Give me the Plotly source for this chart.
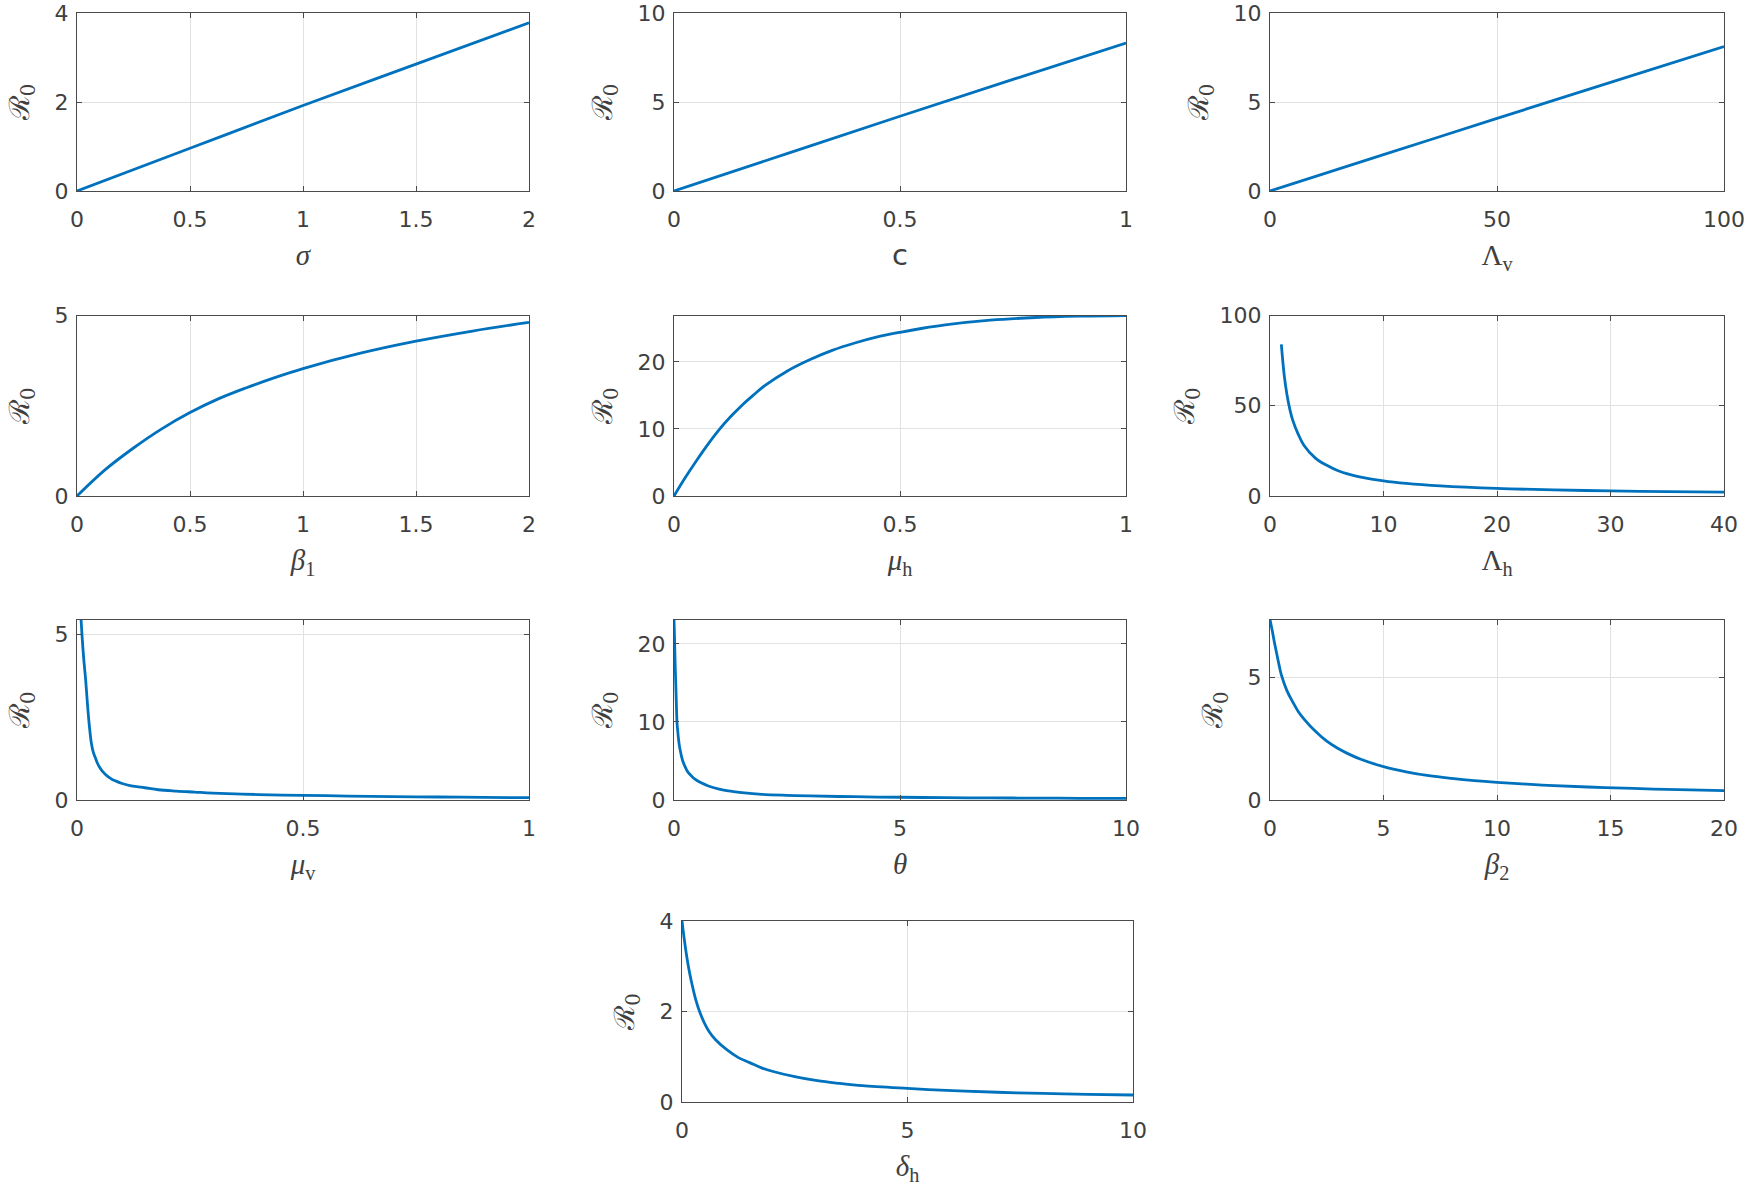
import plotly.graph_objects as go

# ---------------- data ----------------
sigma = [0, 0.5, 1, 1.5, 2]
R0_sigma = [0, 0.96, 1.92, 2.85, 3.78]

c_vals = [0, 0.25, 0.5, 0.75, 1]
R0_c = [0, 2.1, 4.2, 6.27, 8.31]

Lambda_v = [0, 25, 50, 75, 100]
R0_Lambda_v = [0, 2.04, 4.08, 6.1, 8.12]

beta1 = [0, 0.125, 0.25, 0.375, 0.5, 0.625, 0.75, 0.875, 1, 1.25, 1.5, 1.75, 2]
R0_beta1 = [0, 0.73, 1.33, 1.86, 2.31, 2.69, 3.0, 3.28, 3.53, 3.95, 4.29, 4.57, 4.81]

mu_h = [0, 0.025, 0.05, 0.075, 0.1, 0.125, 0.15, 0.175, 0.2, 0.25, 0.3, 0.35, 0.4, 0.45,
        0.5, 0.55, 0.6, 0.7, 0.8, 0.9, 1.0]
R0_mu_h = [0, 2.75, 5.3, 7.7, 9.9, 11.8, 13.5, 15.0, 16.4, 18.6, 20.3, 21.7, 22.8, 23.7,
           24.4, 25.0, 25.5, 26.2, 26.6, 26.8, 26.9]

Lambda_h = [1, 1.25, 1.5, 1.75, 2, 2.5, 3, 4, 5, 6, 7, 8, 10, 12, 15, 20, 25, 30, 35, 40]
R0_Lambda_h = [84, 67, 56, 48, 42, 34, 28, 21, 17, 14, 12, 10.5, 8.4, 7, 5.6, 4.2, 3.4, 2.8, 2.4, 2.1]

mu_v = [0.009, 0.011, 0.013, 0.015, 0.017, 0.019, 0.021, 0.024, 0.028, 0.032, 0.036, 0.04,
        0.045, 0.05, 0.056, 0.063, 0.07, 0.077, 0.085, 0.1, 0.12, 0.15, 0.18, 0.22, 0.26,
        0.3, 0.4, 0.5, 0.6, 0.7, 0.8, 0.9, 1.0]
R0_mu_v = [5.45, 5.0, 4.6, 4.25, 3.95, 3.66, 3.3, 2.75, 2.15, 1.7, 1.45, 1.3,
           1.12, 0.99, 0.87, 0.77, 0.69, 0.63, 0.58, 0.5, 0.43, 0.37, 0.31, 0.27, 0.24,
           0.21, 0.165, 0.14, 0.12, 0.1, 0.09, 0.08, 0.07]

theta = [0, 0.008, 0.015, 0.025, 0.037, 0.05, 0.066, 0.08, 0.1, 0.118, 0.14, 0.17, 0.206,
         0.25, 0.317, 0.4, 0.465, 0.6, 0.76, 1.0, 1.2, 1.5, 1.94, 2.5, 3, 4, 5, 6, 7, 8, 9, 10]
R0_theta = [23.13, 21.5, 20, 17.5, 15.3, 12.8, 10, 9.0, 7.8, 7.0, 6.3, 5.5, 4.8,
            4.2, 3.5, 3.0, 2.67, 2.2, 1.8, 1.4, 1.16, 0.95, 0.73, 0.6, 0.52, 0.42, 0.35,
            0.3, 0.27, 0.24, 0.22, 0.2]

beta2 = [0, 0.1, 0.2, 0.3, 0.4, 0.5, 0.75, 1, 1.25, 1.5, 2, 2.5, 3, 3.5, 4, 5, 6, 7, 8, 9,
         10, 12, 14, 16, 18, 20]
R0_beta2 = [7.36, 6.9, 6.4, 5.95, 5.5, 5.1, 4.45, 4.0, 3.6, 3.3, 2.8, 2.4, 2.1, 1.86, 1.66,
            1.36, 1.15, 0.99, 0.88, 0.79, 0.72, 0.61, 0.53, 0.47, 0.42, 0.38]

delta_h = [0, 0.05, 0.1, 0.15, 0.2, 0.3, 0.4, 0.5, 0.6, 0.75, 1, 1.25, 1.5, 1.75, 2, 2.5,
           3, 3.5, 4, 5, 6, 7, 8, 9, 10]
R0_delta_h = [4, 3.6, 3.25, 2.95, 2.7, 2.28, 1.97, 1.74, 1.56, 1.37, 1.15, 0.98, 0.87,
              0.76, 0.68, 0.56, 0.47, 0.41, 0.36, 0.3, 0.25, 0.215, 0.19, 0.17, 0.155]

# axis ranges and tick labels
x_ranges = [[0, 2], [0, 1], [0, 100], [0, 2], [0, 1], [0, 40], [0, 1], [0, 10], [0, 20], [0, 10]]
y_ranges = [[0, 4], [0, 10], [0, 10], [0, 5], [0, 26.9], [0, 100], [0, 5.456], [0, 23.13],
            [0, 7.36], [0, 4]]
x_ticks = [[0, 0.5, 1, 1.5, 2], [0, 0.5, 1], [0, 50, 100], [0, 0.5, 1, 1.5, 2], [0, 0.5, 1],
           [0, 10, 20, 30, 40], [0, 0.5, 1], [0, 5, 10], [0, 5, 10, 15, 20], [0, 5, 10]]
y_ticks = [[0, 2, 4], [0, 5, 10], [0, 5, 10], [0, 5], [0, 10, 20], [0, 50, 100], [0, 5],
           [0, 10, 20], [0, 5], [0, 2, 4]]

x_titles = ['<i>σ</i>', 'c', 'Λ<sub>v</sub>', '<i>β</i><sub>1</sub>', '<i>μ</i><sub>h</sub>',
            'Λ<sub>h</sub>', '<i>μ</i><sub>v</sub>', '<i>θ</i>', '<i>β</i><sub>2</sub>',
            '<i>δ</i><sub>h</sub>']
x_title_fonts = ['Liberation Serif', 'DejaVu Sans', 'Liberation Serif', 'Liberation Serif',
                 'Liberation Serif', 'Liberation Serif', 'Liberation Serif', 'Liberation Serif',
                 'Liberation Serif', 'Liberation Serif']
y_title = 'ℛ<sub>0</sub>'

series = [(sigma, R0_sigma), (c_vals, R0_c), (Lambda_v, R0_Lambda_v),
          (beta1, R0_beta1), (mu_h, R0_mu_h), (Lambda_h, R0_Lambda_h),
          (mu_v, R0_mu_v), (theta, R0_theta), (beta2, R0_beta2),
          (delta_h, R0_delta_h)]

# ---------------- layout (pixel boxes -> paper fractions) ----------------
W, H = 1754, 1192
cols = [(77, 529), (674, 1126), (1270, 1724)]
rows = [(13, 191), (315.5, 496), (619.5, 800)]
boxes = []
for r in rows:
    for cc in cols:
        boxes.append((cc, r))
boxes.append(((682, 1133), (921, 1102)))

AX = '#4a4a4a'
TXT = '#404040'
TICKFONT = dict(family='DejaVu Sans', size=22, color=TXT)

fig = go.Figure()
layout = dict(width=W, height=H, margin=dict(l=0, r=0, t=0, b=0),
              paper_bgcolor='white', plot_bgcolor='white', showlegend=False,
              template='none')

for i, ((xs, ys), ((x0, x1), (y0, y1))) in enumerate(zip(series, boxes)):
    n = i + 1
    sx = '' if n == 1 else str(n)
    fig.add_trace(go.Scatter(
        x=xs, y=ys, mode='lines',
        line=dict(color='#0072BD', width=2.8, shape='spline', smoothing=1.0),
        xaxis='x' + sx, yaxis='y' + sx, hoverinfo='skip'))
    common = dict(showline=True, mirror='ticks', linecolor=AX, linewidth=1.2,
                  ticks='inside', ticklen=5, tickcolor=AX, tickwidth=1,
                  showgrid=True, gridcolor='#e2e2e2', gridwidth=1, zeroline=False,
                  tickfont=TICKFONT, automargin=False, fixedrange=True,
                  ticklabeloverflow='allow')
    layout['xaxis' + sx] = dict(common, domain=[x0 / W, x1 / W], anchor='y' + sx,
                                range=x_ranges[i], tickvals=x_ticks[i],
                                ticktext=[f'{v:g}' for v in x_ticks[i]],
                                ticklabelstandoff=8,
                                title=dict(text=x_titles[i],
                                           font=dict(family=x_title_fonts[i], size=29, color=TXT),
                                           standoff=14))
    layout['yaxis' + sx] = dict(common, domain=[1 - y1 / H, 1 - y0 / H], anchor='x' + sx,
                                range=y_ranges[i], tickvals=y_ticks[i],
                                ticktext=[f'{v:g}' for v in y_ticks[i]],
                                ticklabelstandoff=3,
                                title=dict(text=y_title,
                                           font=dict(family='DejaVu Serif', size=28, color=TXT),
                                           standoff=16))

fig.update_layout(**layout)
fig.write_html('out.html',
               config={'displayModeBar': False},
               post_script="document.body.style.margin='0px';"
                           "document.body.style.overflow='hidden';")
